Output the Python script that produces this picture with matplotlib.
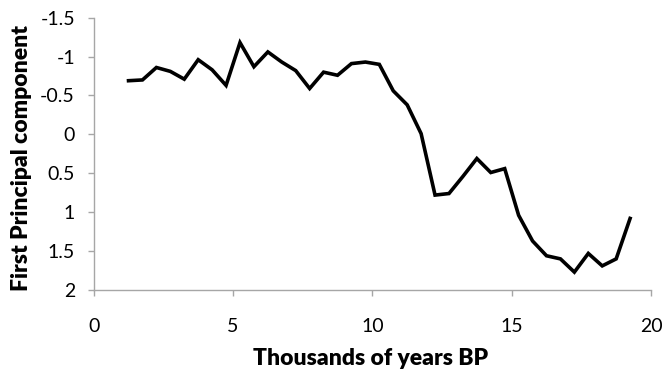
import matplotlib
matplotlib.use("Agg")
import matplotlib.pyplot as plt
import numpy as np

# Age in thousands of years BP and first principal component score
age_kyr = [1.25, 1.75, 2.25, 2.75, 3.25, 3.75, 4.25, 4.75, 5.25, 5.75,
           6.25, 6.75, 7.25, 7.75, 8.25, 8.75, 9.25, 9.75, 10.25, 10.75,
           11.25, 11.75, 12.25, 12.75, 13.25, 13.75, 14.25, 14.75, 15.25, 15.75,
           16.25, 16.75, 17.25, 17.75, 18.25, 18.75, 19.25]
pc1 = [-0.69, -0.70, -0.86, -0.81, -0.71, -0.96, -0.83, -0.63, -1.18, -0.87,
       -1.06, -0.93, -0.82, -0.59, -0.80, -0.76, -0.91, -0.93, -0.90, -0.56,
       -0.38, -0.01, 0.78, 0.76, 0.54, 0.31, 0.49, 0.44, 1.04, 1.37,
       1.56, 1.60, 1.77, 1.53, 1.69, 1.60, 1.08]

x_ticks = [0, 5, 10, 15, 20]
y_ticks = [-1.5, -1, -0.5, 0, 0.5, 1, 1.5, 2]
y_tick_labels = ["-1.5", "-1", "-0.5", "0", "0.5", "1", "1.5", "2"]

plt.rcParams["font.family"] = ["Lato", "DejaVu Sans"]

fig = plt.figure(figsize=(6.65, 3.69), dpi=100)
ax = fig.add_axes([93.7 / 665, 1 - 290 / 369, (651 - 93.7) / 665, (290 - 17.7) / 369])

ax.plot(age_kyr, pc1, color="black", linewidth=2.6, solid_joinstyle="miter")

ax.set_xlim(0, 20)
ax.set_ylim(2, -1.5)
ax.set_xticks(x_ticks)
ax.set_xticklabels([str(t) for t in x_ticks])
ax.set_yticks(y_ticks)
ax.set_yticklabels(y_tick_labels)

for side in ("top", "right"):
    ax.spines[side].set_visible(False)
for side in ("left", "bottom"):
    ax.spines[side].set_color("#a6a6a6")
    ax.spines[side].set_linewidth(1.0)

ax.tick_params(axis="both", colors="#a6a6a6", labelcolor="black",
               labelsize=14, length=4.5, width=1.0, direction="out")
ax.tick_params(axis="x", pad=16)
ax.tick_params(axis="y", pad=9)

ax.set_xlabel("Thousands of years BP", fontsize=16.5, fontweight="heavy")
ax.set_ylabel("First Principal component", fontsize=16.5, fontweight="heavy")
ax.xaxis.set_label_coords(0.497, -0.25)
ax.xaxis.label.set_va("center")
ax.yaxis.set_label_coords(-0.13, 0.483)
ax.yaxis.label.set_va("center")

fig.savefig("out.png", dpi=100)
